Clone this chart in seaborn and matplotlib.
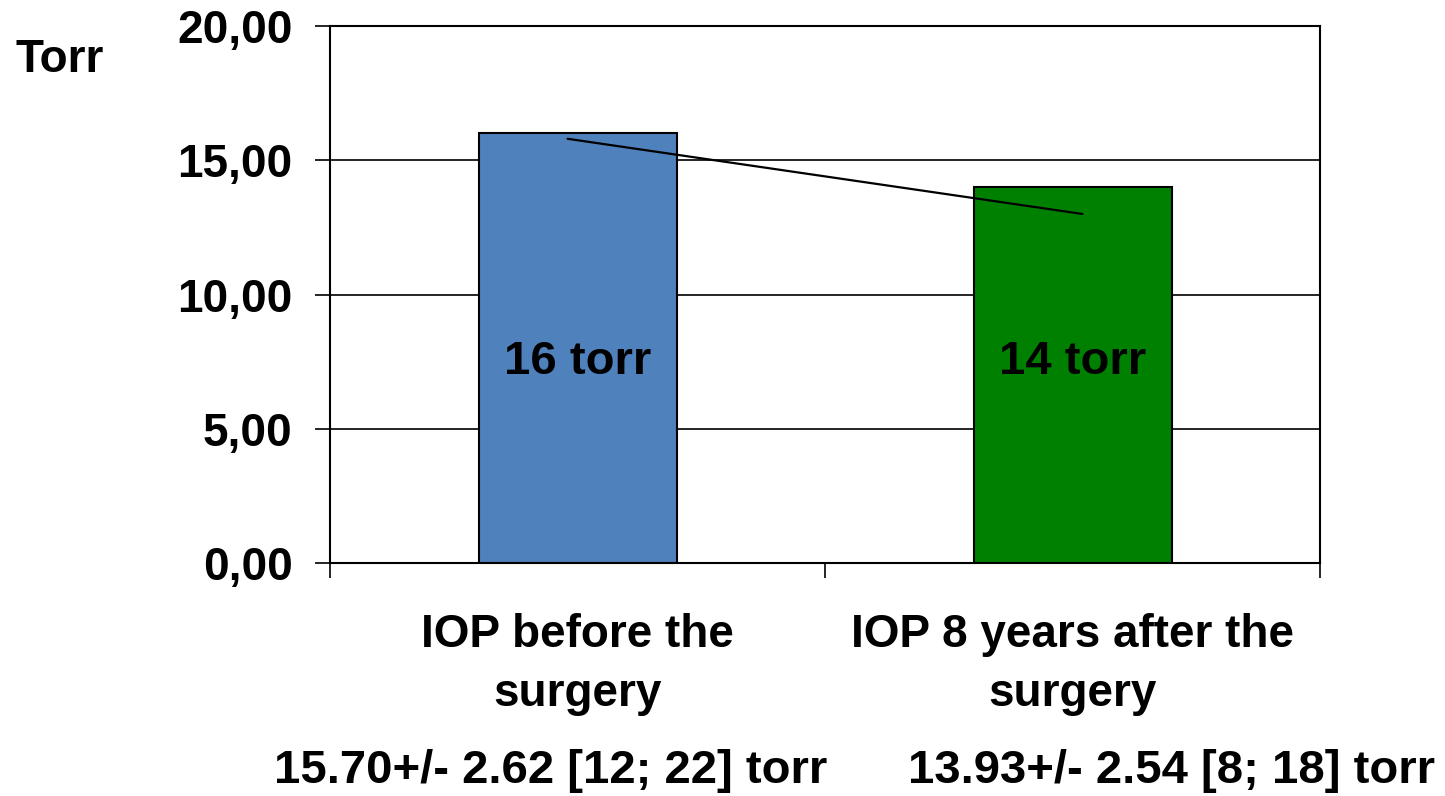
import matplotlib
matplotlib.use("Agg")
import matplotlib.pyplot as plt
import numpy as np
import seaborn as sns

# data
categories = ["IOP before the\nsurgery", "IOP 8 years after the\nsurgery"]
iop_values = [16.0, 14.0]
bar_labels = ["16 torr", "14 torr"]
trend_values = [15.8, 13.0]
stat_labels = ["15.70+/- 2.62 [12; 22] torr", "13.93+/- 2.54 [8; 18] torr"]
bar_colors = ["#4F81BD", "#008000"]
y_ticks = [0, 5, 10, 15, 20]

sns.set_theme(style="white")
plt.rcParams["font.family"] = ["Liberation Sans", "DejaVu Sans"]
plt.rcParams["font.weight"] = "bold"
plt.rcParams["text.color"] = "black"
plt.rcParams["xtick.color"] = "black"
plt.rcParams["ytick.color"] = "black"

fig = plt.figure(figsize=(14.45, 7.96), dpi=100)
ax = fig.add_axes([0.2284, 0.2927, 0.6851, 0.6746])

sns.barplot(
    x=categories,
    y=iop_values,
    hue=categories,
    palette=bar_colors,
    width=0.4,
    edgecolor="black",
    linewidth=1.5,
    legend=False,
    saturation=1,
    ax=ax,
)

# trend line, slightly extended past category centres like the original
x_pos = np.arange(len(trend_values), dtype=float)
x_pos[0] -= 0.02
x_pos[-1] += 0.02
ax.plot(x_pos, trend_values, color="black", lw=1.6, zorder=5)

for i, label in enumerate(bar_labels):
    ax.text(i, 7.5, label, ha="center", va="center", fontsize=34, fontweight="bold", color="black")

ax.set_xlim(-0.5, 1.5)
ax.set_ylim(0, 20)
ax.set_yticks(y_ticks)
ax.set_yticklabels([f"{v:.2f}".replace(".", ",") for v in y_ticks], fontsize=33, fontweight="bold")
ax.set_xticks([-0.5, 0.5, 1.5], minor=False)
ax.set_xticklabels(["", "", ""])
ax.set_xticks([0, 1], minor=True)
ax.set_xticklabels(categories, minor=True, fontsize=33, fontweight="bold", linespacing=1.45)
ax.tick_params(axis="x", which="major", direction="out", length=11, width=1.2, color="black", bottom=True)
ax.tick_params(axis="x", which="minor", length=0, pad=36, bottom=True)
ax.tick_params(axis="y", direction="out", length=11, width=1.2, color="black", pad=16, left=True)

ax.yaxis.grid(True, color="black", lw=1.2)
ax.set_axisbelow(True)
for side in ["left", "right", "top", "bottom"]:
    ax.spines[side].set_visible(True)
    ax.spines[side].set_color("black")
    ax.spines[side].set_linewidth(1.5)
ax.set_xlabel("")
ax.set_ylabel("")

fig.text(60 / 1445, 1 - 60 / 796, "Torr", ha="center", va="center", fontsize=33, fontweight="bold")
stat_x = [551 / 1445, 1172 / 1445]
for xp, txt in zip(stat_x, stat_labels):
    fig.text(xp, 1 - 771 / 796, txt, ha="center", va="center", fontsize=34, fontweight="bold")

fig.savefig("out.png", dpi=100)
